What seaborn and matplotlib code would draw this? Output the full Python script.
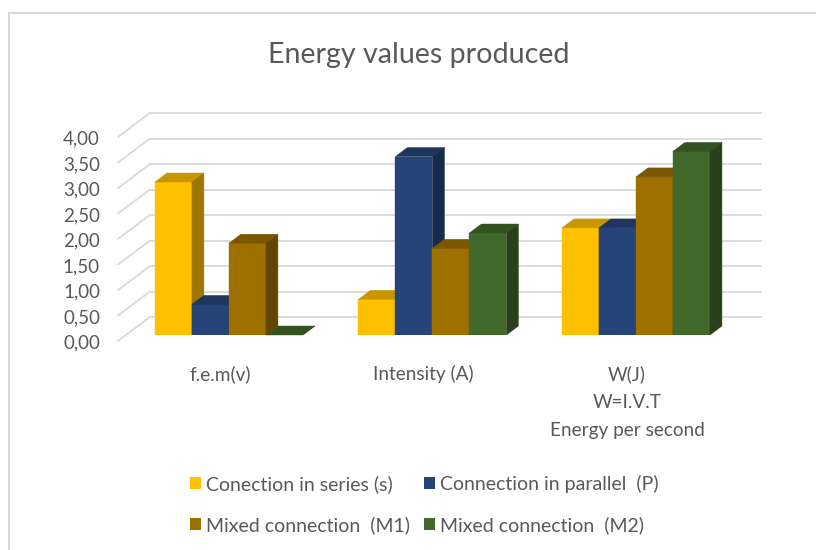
import numpy as np
import pandas as pd
import matplotlib
matplotlib.use("Agg")
import matplotlib.pyplot as plt
import matplotlib.colors as mcolors
from matplotlib.patches import Polygon, Patch
from matplotlib.lines import Line2D
import seaborn as sns

# ---------------- data ----------------
title = "Energy values produced"
categories = ["f.e.m(v)", "Intensity (A)", "W(J)\nW=I.V.T\nEnergy per second"]
series_names = ["Conection in series (s)", "Connection in parallel  (P)",
                "Mixed connection  (M1)", "Mixed connection  (M2)"]
series_s = [3.0, 0.7, 2.1]
parallel_p = [0.6, 3.5, 2.1]
mixed_m1 = [1.8, 1.7, 3.1]
mixed_m2 = [0.0, 2.0, 3.6]
colors = ["#FFC000", "#264478", "#9E7000", "#43682B"]
y_ticks = [0.0, 0.5, 1.0, 1.5, 2.0, 2.5, 3.0, 3.5, 4.0]
y_tick_labels = ["0,00", "0,50", "1,00", "1,50", "2,00", "2,50", "3,00", "3,50", "4,00"]

values = [series_s, parallel_p, mixed_m1, mixed_m2]
df = pd.DataFrame({
    "category": [c for _ in series_names for c in categories],
    "series": [s for s in series_names for _ in categories],
    "value": [v for vals in values for v in vals],
})

# ---------------- style ----------------
sns.set_theme(style="white")
plt.rcParams['font.family'] = ['Lato', 'DejaVu Sans']
TXT = "#595959"
GRID = "#d9d9d9"

W_PX, H_PX = 816, 550
fig = plt.figure(figsize=(W_PX / 100, H_PX / 100), dpi=100)
fig.patch.set_facecolor("white")

ax_l, ax_b, ax_w, ax_h = 118, 335, 612, 204   # pixel geometry of front plane
ax = fig.add_axes([ax_l / W_PX, (H_PX - ax_b) / H_PX, ax_w / W_PX, ax_h / H_PX])
ax.set_facecolor("none")

sns.barplot(data=df, x="category", y="value", hue="series", order=categories,
            hue_order=series_names, palette=colors, saturation=1, width=0.727,
            linewidth=0, legend=False, ax=ax, errorbar=None)

x0, x1 = -0.545, 2.462
ax.set_xlim(x0, x1)
ax.set_ylim(0, 4.0)
px_x = (x1 - x0) / ax_w
px_y = 4.0 / ax_h

# 3D effect on seaborn's bars
dx, dy = 12 * px_x, 9 * px_y
def shade(c, f):
    r, g, b = mcolors.to_rgb(c)
    return (r * f, g * f, b * f)

for k, cont in enumerate(ax.containers):
    col = colors[k]
    for bar in cont:
        bar.set_zorder(10 + 3 * k)
        bar.set_edgecolor(col)
        bar.set_linewidth(0.3)
        bx, bw, bh = bar.get_x(), bar.get_width(), bar.get_height()
        top = Polygon([(bx, bh), (bx + bw, bh), (bx + bw + dx, bh + dy), (bx + dx, bh + dy)],
                      closed=True, facecolor=shade(col, 0.78), edgecolor=shade(col, 0.78),
                      lw=0.3, zorder=11 + 3 * k, clip_on=False)
        side = Polygon([(bx + bw, 0), (bx + bw, bh), (bx + bw + dx, bh + dy), (bx + bw + dx, dy)],
                       closed=True, facecolor=shade(col, 0.62), edgecolor=shade(col, 0.62),
                       lw=0.3, zorder=11 + 3 * k, clip_on=False)
        ax.add_patch(top)
        ax.add_patch(side)

# back wall gridlines & side-wall diagonals
back_x0 = x0 + 32 * px_x
back_x1 = x0 + 644 * px_x
back_dy = 18 * px_y
front_dy = -6 * px_y
for v in y_ticks:
    ax.plot([back_x0, back_x1], [v + back_dy, v + back_dy], color=GRID, lw=1.3,
            zorder=1, clip_on=False, solid_capstyle="butt")
    ax.plot([x0, back_x0], [v + front_dy, v + back_dy], color=GRID, lw=1.3,
            zorder=1, clip_on=False)

for s in ax.spines.values():
    s.set_visible(False)
ax.set_xticks([])
ax.set_yticks([])
ax.set_xlabel("")
ax.set_ylabel("")

# y tick labels
ytf = ax.get_yaxis_transform()
for v, lab in zip(y_ticks, y_tick_labels):
    ax.text(-18 / ax_w, v - 8 * px_y, lab, transform=ytf, ha="right", va="center",
            fontsize=13.5, color=TXT)

# category labels
for i, lab in enumerate(categories):
    ax.text(i - 9 * px_x, -30 * px_y, lab, ha="center", va="top", fontsize=13.7,
            color=TXT, linespacing=1.78)

# title
fig.text(419 / W_PX, 1 - 55 / H_PX, title, ha="center", va="center", fontsize=20.6, color=TXT)

# legend
handles = [Patch(facecolor=c, edgecolor="none") for c in colors]
order = [0, 2, 1, 3]
fig.legend([handles[i] for i in order], [series_names[i] for i in order], ncol=2,
           loc="center left", bbox_to_anchor=(190 / W_PX, 1 - 504.5 / H_PX),
           frameon=False, fontsize=14, borderpad=0, borderaxespad=0,
           handlelength=0.57, handleheight=0.57, handletextpad=0.26,
           columnspacing=0.7, labelspacing=1.2, labelcolor=TXT)

# chart frame (light gray, left and top)
fig.add_artist(Line2D([9 / W_PX, 9 / W_PX], [0, 1 - 13 / H_PX], color=GRID, lw=1.5,
                      transform=fig.transFigure))
fig.add_artist(Line2D([9 / W_PX, 1], [1 - 13 / H_PX, 1 - 13 / H_PX], color=GRID, lw=1.5,
                      transform=fig.transFigure))

fig.savefig("out.png", dpi=100)
